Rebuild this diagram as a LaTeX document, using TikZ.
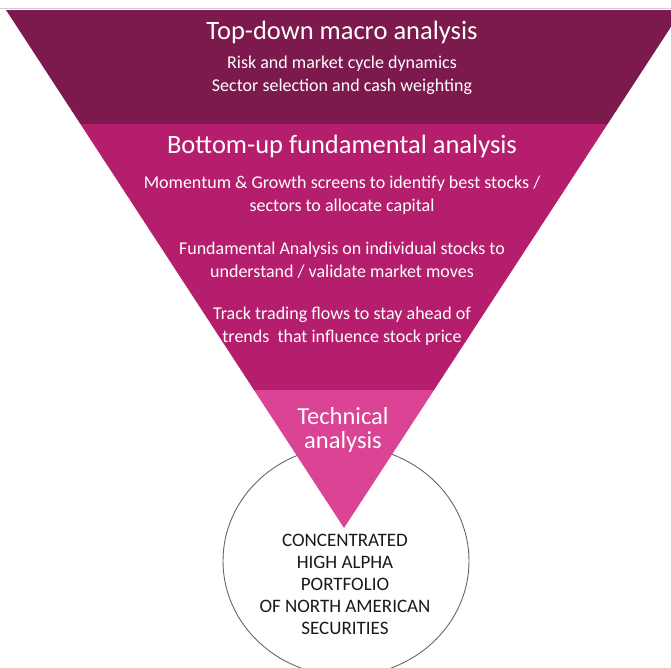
\documentclass[tikz,border=0pt]{standalone}
\usepackage{fontspec}
\setmainfont{Carlito}
\usepackage{tikz}

\definecolor{macrocol}{RGB}{125,26,77}
\definecolor{fundcol}{RGB}{181,30,109}
\definecolor{techcol}{RGB}{219,67,149}

\begin{document}
\begin{tikzpicture}
  [x=1pt,y=-1pt,every node/.style={text=white,align=center,inner sep=0pt},
   head/.style={font=\fontsize{26.5}{30}\selectfont},
   body/.style={font=\fontsize{18}{23}\selectfont}]

  \tikzstyle{caps} = [text=black!90,font=\fontsize{19}{22}\selectfont]

  \useasboundingbox (0,0) rectangle (671,667);
  \clip (0,0) rectangle (671,667);

  \draw[black!20] (0,8.5) -- (671,8.5);

  % portfolio circle, drawn first so the funnel tip covers it
  \draw[black!60,line width=0.9pt] (346,561) ellipse [x radius=123,y radius=115];

  % funnel
  \begin{scope}
    \clip (6,10) -- (682,10) -- (344,528) -- cycle;
    \fill[macrocol] (0,10) rectangle (700,124);
    \fill[fundcol]  (0,124) rectangle (700,390);
    \fill[techcol]  (0,390) rectangle (700,530);
  \end{scope}

  \node[head] (macro) at (342,32) {Top-down macro analysis};
  \node[body] (macrotxt) at (342,75) {Risk and market cycle dynamics\\Sector selection and cash weighting};

  \node[head] (fund) at (342,146) {Bottom-up fundamental analysis};
  \node[body] (screens) at (342,195) {Momentum \& Growth screens to identify best stocks /\\sectors to allocate capital};
  \node[body] (stocks)  at (342,260) {Fundamental Analysis on individual stocks to\\understand / validate market moves};
  \node[body] (flows)   at (342,326) {Track trading flows to stay ahead of\\trends\ \ that influence stock price};

  \node[head,font=\fontsize{24.5}{24}\selectfont] (tech) at (343,430) {Technical\\analysis};

  \node[caps] (result) at (345,584) {CONCENTRATED\\HIGH ALPHA\\PORTFOLIO\\OF NORTH AMERICAN\\SECURITIES};
\end{tikzpicture}
\end{document}
